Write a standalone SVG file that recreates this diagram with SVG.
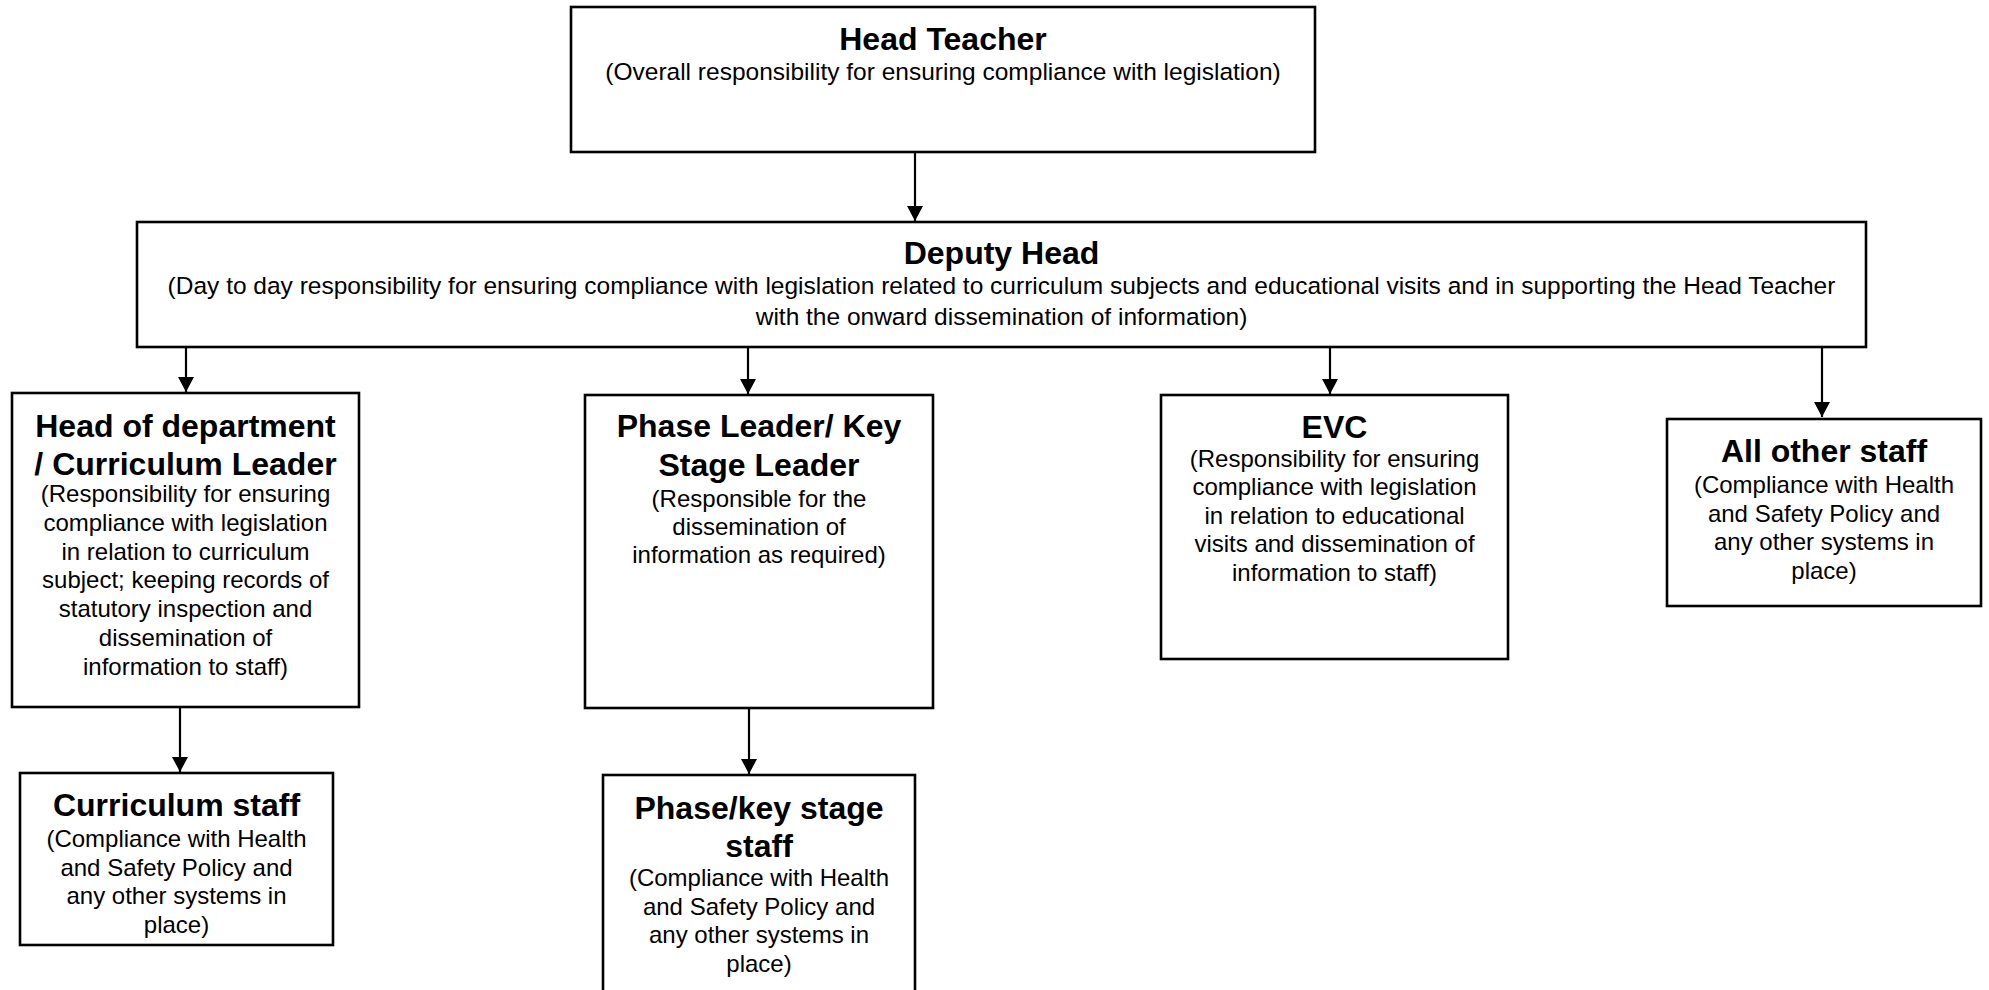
<svg xmlns="http://www.w3.org/2000/svg" width="1989" height="990" viewBox="0 0 1989 990">
<style>
.box{fill:#fff;stroke:#000;stroke-width:2.6}
.t{font-family:"Liberation Sans",Arial,sans-serif;font-weight:bold;font-size:32px;text-anchor:middle;fill:#000}
.b{font-family:"Liberation Sans",Arial,sans-serif;font-size:24px;text-anchor:middle;fill:#000}
.w{font-size:24.5px}
.c{stroke:#000;stroke-width:2.2;fill:none;marker-end:url(#arr)}
</style>
<defs>
<marker id="arr" markerUnits="userSpaceOnUse" markerWidth="16" markerHeight="16" viewBox="0 0 16 16" refX="15" refY="8" orient="auto">
<path d="M0,0 L15,8 L0,16 Z" fill="#000"/>
</marker>
</defs>
<rect width="1989" height="990" fill="#fff"/>
<g id="connectors">
<line class="c" x1="915" y1="152" x2="915" y2="221"/>
<line class="c" x1="186" y1="347" x2="186" y2="392"/>
<line class="c" x1="748" y1="347" x2="748" y2="394"/>
<line class="c" x1="1330" y1="347" x2="1330" y2="394"/>
<line class="c" x1="1822" y1="343" x2="1822" y2="417"/>
<line class="c" x1="180" y1="703" x2="180" y2="772"/>
<line class="c" x1="749" y1="703" x2="749" y2="774"/>
</g>
<g id="head-teacher">
<rect class="box" x="571" y="7" width="744" height="145"/>
<text class="t" x="943" y="50">Head Teacher</text>
<text class="b w" x="943" y="80">(Overall responsibility for ensuring compliance with legislation)</text>
</g>
<g id="deputy-head">
<rect class="box" x="137" y="222" width="1729" height="125"/>
<text class="t" x="1001.5" y="263.5">Deputy Head</text>
<text class="b w" x="1001.5" y="294">(Day to day responsibility for ensuring compliance with legislation related to curriculum subjects and educational visits and in supporting the Head Teacher</text>
<text class="b w" x="1001.5" y="325">with the onward dissemination of information)</text>
</g>
<g id="head-of-department">
<rect class="box" x="12" y="393" width="347" height="314"/>
<text class="t" x="185.5" y="437">Head of department</text>
<text class="t" x="185.5" y="475">/ Curriculum Leader</text>
<text class="b" x="185.5" y="502">(Responsibility for ensuring</text>
<text class="b" x="185.5" y="530.8">compliance with legislation</text>
<text class="b" x="185.5" y="559.6">in relation to curriculum</text>
<text class="b" x="185.5" y="588.4">subject; keeping records of</text>
<text class="b" x="185.5" y="617.2">statutory inspection and</text>
<text class="b" x="185.5" y="646">dissemination of</text>
<text class="b" x="185.5" y="674.8">information to staff)</text>
</g>
<g id="phase-leader">
<rect class="box" x="585" y="395" width="348" height="313"/>
<text class="t" x="759" y="437">Phase Leader/ Key</text>
<text class="t" x="759" y="476">Stage Leader</text>
<text class="b" x="759" y="507">(Responsible for the</text>
<text class="b" x="759" y="535">dissemination of</text>
<text class="b" x="759" y="563">information as required)</text>
</g>
<g id="evc">
<rect class="box" x="1161" y="395" width="347" height="264"/>
<text class="t" x="1334.5" y="437.5">EVC</text>
<text class="b" x="1334.5" y="466.5">(Responsibility for ensuring</text>
<text class="b" x="1334.5" y="495">compliance with legislation</text>
<text class="b" x="1334.5" y="523.5">in relation to educational</text>
<text class="b" x="1334.5" y="552">visits and dissemination of</text>
<text class="b" x="1334.5" y="580.5">information to staff)</text>
</g>
<g id="all-other-staff">
<rect class="box" x="1667" y="419" width="314" height="187"/>
<text class="t" x="1824" y="461.5">All other staff</text>
<text class="b" x="1824" y="493">(Compliance with Health</text>
<text class="b" x="1824" y="521.5">and Safety Policy and</text>
<text class="b" x="1824" y="550">any other systems in</text>
<text class="b" x="1824" y="578.5">place)</text>
</g>
<g id="curriculum-staff">
<rect class="box" x="20" y="773" width="313" height="172"/>
<text class="t" x="176.5" y="815.5">Curriculum staff</text>
<text class="b" x="176.5" y="847">(Compliance with Health</text>
<text class="b" x="176.5" y="875.5">and Safety Policy and</text>
<text class="b" x="176.5" y="904">any other systems in</text>
<text class="b" x="176.5" y="932.5">place)</text>
</g>
<g id="phase-staff">
<rect class="box" x="603" y="775" width="312" height="240"/>
<text class="t" x="759" y="818.5">Phase/key stage</text>
<text class="t" x="759" y="856.5">staff</text>
<text class="b" x="759" y="886">(Compliance with Health</text>
<text class="b" x="759" y="914.5">and Safety Policy and</text>
<text class="b" x="759" y="943">any other systems in</text>
<text class="b" x="759" y="971.5">place)</text>
</g>
</svg>
